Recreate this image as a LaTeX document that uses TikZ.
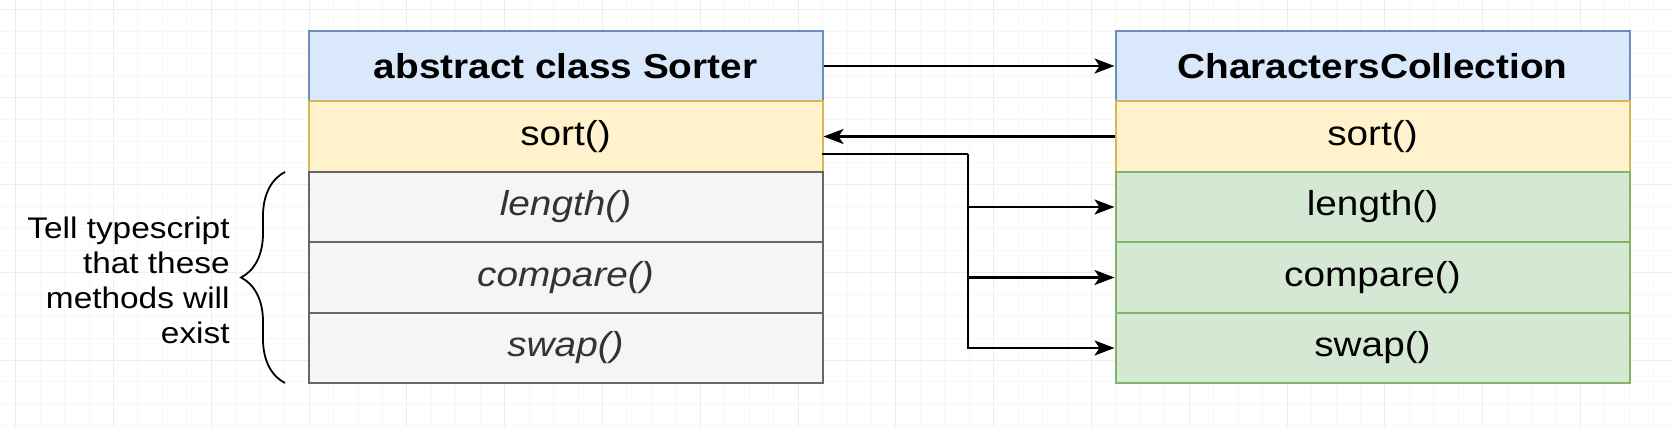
\documentclass[tikz,border=0pt]{standalone}
\usepackage{fontspec}
\setmainfont{Liberation Sans}[FakeStretch=1.12]
\usetikzlibrary{arrows.meta,decorations.pathreplacing}
\definecolor{hdrfill}{HTML}{DAE8FC}
\definecolor{hdrline}{HTML}{6C8EBF}
\definecolor{srtfill}{HTML}{FFF2CC}
\definecolor{srtline}{HTML}{D6B656}
\definecolor{absfill}{HTML}{F5F5F5}
\definecolor{absline}{HTML}{666666}
\definecolor{abstext}{HTML}{333333}
\definecolor{impfill}{HTML}{D5E8D4}
\definecolor{impline}{HTML}{82B366}
\definecolor{gridlo}{HTML}{F7F7F7}
\definecolor{gridhi}{HTML}{EDEDED}

\begin{document}
\begin{tikzpicture}[x=0.5pt,y=-0.5pt,
    basebox/.style={draw, line width=1pt, minimum width=257pt, minimum height=35.25pt,
      inner sep=0pt, font=\fontsize{17.3}{20}\selectfont},
    hdrbox/.style={basebox, fill=hdrfill, draw=hdrline, font=\fontsize{17.3}{20}\selectfont\bfseries},
    srtbox/.style={basebox, fill=srtfill, draw=srtline},
    absbox/.style={basebox, fill=absfill, draw=absline, text=abstext,
      font=\fontsize{17.3}{20}\selectfont\itshape},
    impbox/.style={basebox, fill=impfill, draw=impline},
    arr/.style={line width=1.2pt, -{Stealth[length=10pt,width=7.5pt,inset=2.5pt]}},
    gridlow/.style={line width=0.5pt, draw=gridlo},
    gridhigh/.style={line width=0.5pt, draw=gridhi}]
    \useasboundingbox[fill=white] (0,0) rectangle (1672,427);
    % background grid
    \foreach \i in {0,...,67} \draw[gridlow] (15.7+24.45*\i,0) -- (15.7+24.45*\i,427);
    \foreach \j in {0,...,19} \draw[gridlow] (0,9.7+21.9*\j) -- (1672,9.7+21.9*\j);
    \foreach \i in {0,...,16} \draw[gridhigh] (15.7+97.8*\i,0) -- (15.7+97.8*\i,427);
    \foreach \j in {0,...,4} \draw[gridhigh] (0,9.7+87.6*\j) -- (1672,9.7+87.6*\j);
    % abstract class
    \node[hdrbox] (sh) at (565.5, 66) {abstract class Sorter};
    \node[srtbox] (ss) at (565.5, 136.5) {sort()};
    \node[absbox] (sl) at (565.5, 207) {length()};
    \node[absbox] (sc) at (565.5, 277.5) {compare()};
    \node[absbox] (sw) at (565.5, 348) {swap()};
    % collection
    \node[hdrbox] (ch) at (1372.5, 66) {CharactersCollection};
    \node[srtbox] (cs) at (1372.5, 136.5) {sort()};
    \node[impbox] (cl) at (1372.5, 207) {length()};
    \node[impbox] (cc) at (1372.5, 277.5) {compare()};
    \node[impbox] (cw) at (1372.5, 348) {swap()};
    % note
    \node[anchor=east, align=right, inner sep=0pt, font=\fontsize{14.9}{17.5}\selectfont] (note)
      at (230, 280.5) {Tell typescript\\that these\\methods will\\exist};
    \coordinate (bb) at (285, 383);
    \coordinate (bt) at (285, 172);
    \draw[decorate, decoration={brace, amplitude=22pt}, line width=0.9pt] (bb) -- (bt);
    % connectors
    \coordinate (fork) at (822, 154);
    \coordinate (bend) at (968, 154);
    \draw[arr] (sh) -- (ch);
    \draw[arr] (cs) -- (ss);
    \draw[line width=1.2pt] (fork) -- (bend);
    \draw[arr] (bend) |- (cl.west);
    \draw[arr] (bend) |- (cc.west);
    \draw[arr] (bend) |- (cw.west);
\end{tikzpicture}
\end{document}
